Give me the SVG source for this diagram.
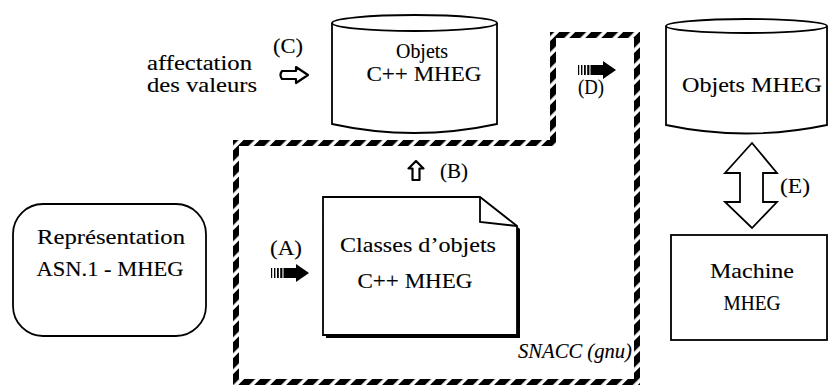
<svg xmlns="http://www.w3.org/2000/svg" width="829" height="387" viewBox="0 0 829 387">
<style>
text{font-family:"Liberation Serif","Times New Roman",serif;font-size:21px;fill:#000;stroke:#000;stroke-width:0.12}
.c{text-anchor:middle}
.ln{fill:#fff;stroke:#000;stroke-width:1.8}
.hl{fill:#fff;stroke:#000;stroke-width:2.2;stroke-linejoin:round}
</style>
<defs>
<pattern id="hatch" width="11.3" height="11.3" patternUnits="userSpaceOnUse" patternTransform="rotate(45)">
<rect width="7.8" height="11.3" fill="#000"/>
</pattern>
<g id="stripe">
<rect x="0" y="-5" width="1.2" height="10"/>
<rect x="3" y="-5" width="1.4" height="10"/>
<rect x="6" y="-5" width="1.8" height="10"/>
<rect x="9.2" y="-5" width="2.2" height="10"/>
<rect x="12.5" y="-5" width="14" height="10"/>
<polygon points="25,-9 38,0 25,9"/>
</g>
</defs>
<rect width="829" height="387" fill="#fff"/>

<g id="snacc">
<path d="M236,143 L553,143 L553,35 L637,35 L637,382 L236,382 Z" fill="none" stroke="url(#hatch)" stroke-width="6"/>
<text x="632" y="358" text-anchor="end" font-style="italic" textLength="114" lengthAdjust="spacingAndGlyphs">SNACC (gnu)</text>
</g>

<g id="representation">
<rect x="13" y="204" width="193" height="132" rx="30" class="ln"/>
<text x="111" y="244" class="c" textLength="148" lengthAdjust="spacingAndGlyphs">Représentation</text>
<text x="110" y="276" class="c" textLength="147" lengthAdjust="spacingAndGlyphs">ASN.1 - MHEG</text>
</g>

<g id="classes">
<path d="M326,200 L483,200 L520,229 L520,338 L326,338 Z" fill="#000"/>
<path d="M323,197 L480,197 L517,226 L517,335 L323,335 Z" class="ln"/>
<path d="M480,197 L480,222 L517,226" fill="none" stroke="#000" stroke-width="1.8"/>
<text x="418" y="252" class="c" textLength="156" lengthAdjust="spacingAndGlyphs">Classes d’objets</text>
<text x="415" y="288" class="c" textLength="115" lengthAdjust="spacingAndGlyphs">C++ MHEG</text>
</g>

<g id="objets-cpp">
<path d="M332,23 L332,124 Q414,142 497,124 L497,23" class="ln"/>
<ellipse cx="414.5" cy="23" rx="82.5" ry="8" class="ln"/>
<text x="422" y="58" class="c" textLength="52" lengthAdjust="spacingAndGlyphs">Objets</text>
<text x="424" y="81" class="c" textLength="115" lengthAdjust="spacingAndGlyphs">C++ MHEG</text>
</g>

<g id="objets-mheg">
<path d="M666,26 L666,125 Q746,142 827,125 L827,26" class="ln"/>
<ellipse cx="746.5" cy="26" rx="80.5" ry="7" class="ln"/>
<text x="752" y="92" class="c" textLength="140" lengthAdjust="spacingAndGlyphs">Objets MHEG</text>
</g>

<g id="machine">
<rect x="671" y="235" width="156" height="105" class="ln"/>
<text x="752" y="278" class="c" font-size="20" textLength="84" lengthAdjust="spacingAndGlyphs">Machine</text>
<text x="752" y="310" class="c" font-size="20" textLength="57" lengthAdjust="spacingAndGlyphs">MHEG</text>
</g>

<g id="affectation">
<text x="147" y="70" textLength="105" lengthAdjust="spacingAndGlyphs">affectation</text>
<text x="147" y="92" textLength="110" lengthAdjust="spacingAndGlyphs">des valeurs</text>
</g>

<g id="connectors">
<g id="arrow-a">
<use href="#stripe" transform="translate(271,273)"/>
<text x="286" y="255" class="c" textLength="32" lengthAdjust="spacingAndGlyphs">(A)</text>
</g>
<g id="arrow-b">
<path d="M416,161 L423.5,168.5 L419.5,168.5 L419.5,180 L412.5,180 L412.5,168.5 L408.5,168.5 Z" class="hl"/>
<text x="454" y="178" class="c" textLength="28" lengthAdjust="spacingAndGlyphs">(B)</text>
</g>
<g id="arrow-c">
<path d="M282,71 L296,71 L296,67 L308,75 L296,83 L296,79 L282,79 Q279,75 282,71 Z" class="hl"/>
<text x="288" y="53" class="c" textLength="30" lengthAdjust="spacingAndGlyphs">(C)</text>
</g>
<g id="arrow-d">
<use href="#stripe" transform="translate(578,70)"/>
<text x="591" y="94" class="c" textLength="26" lengthAdjust="spacingAndGlyphs">(D)</text>
</g>
<g id="arrow-e">
<polygon points="752,143 777,173 763,173 763,202 777,202 752,228 725,202 740,202 740,173 725,173" class="ln"/>
<text x="780" y="193" textLength="30" lengthAdjust="spacingAndGlyphs">(E)</text>
</g>
</g>
</svg>
